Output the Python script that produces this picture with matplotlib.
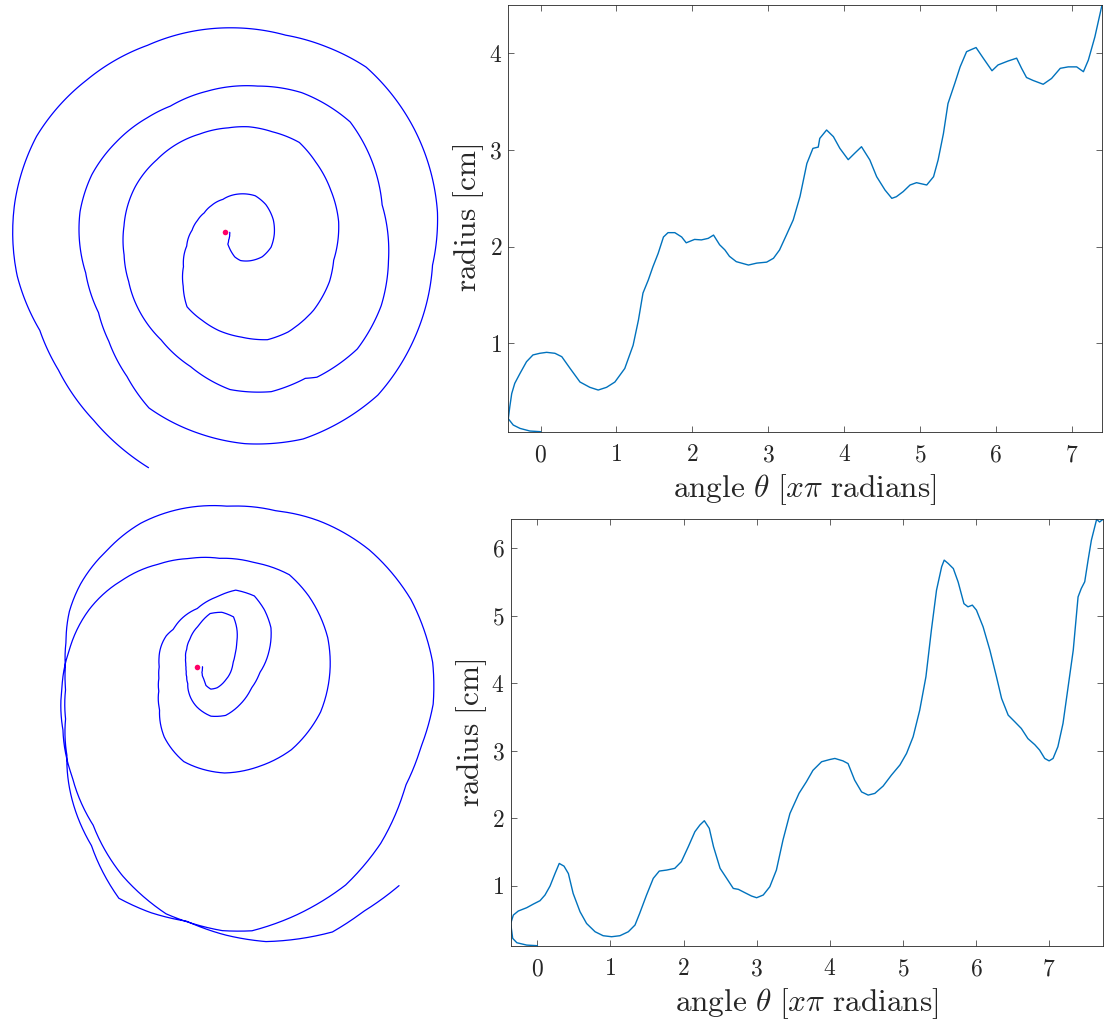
import numpy as np
import matplotlib
matplotlib.use("Agg")
import matplotlib.pyplot as plt
from matplotlib.path import Path
from matplotlib.patches import PathPatch

# ---- traced spirals: unwrapped angle (in units of pi) and radius [cm] ----
theta_top = [0.00, -0.14, -0.27, -0.36, -0.425, -0.405, -0.38, -0.34, -0.27, -0.185,
             -0.10, -0.01, 0.08, 0.19, 0.28, 0.39, 0.52, 0.65, 0.76, 0.87,
             0.98, 1.11, 1.22, 1.29, 1.35, 1.42, 1.48, 1.55, 1.62, 1.68,
             1.77, 1.86, 1.92, 2.03, 2.12, 2.21, 2.28, 2.36, 2.43, 2.49,
             2.58, 2.74, 2.85, 2.98, 3.07, 3.15, 3.24, 3.33, 3.42, 3.51,
             3.59, 3.66, 3.68, 3.77, 3.86, 3.945, 4.055, 4.14, 4.23, 4.34,
             4.43, 4.54, 4.63, 4.69, 4.78, 4.87, 4.955, 5.09, 5.18, 5.24,
             5.31, 5.37, 5.46, 5.53, 5.615, 5.68, 5.74, 5.835, 5.95, 6.03,
             6.16, 6.275, 6.34, 6.405, 6.49, 6.625, 6.735, 6.85, 6.955, 7.066,
             7.155, 7.22, 7.306, 7.40]
r_top = [0.086, 0.093, 0.12, 0.155, 0.22, 0.345, 0.48, 0.586, 0.69, 0.81,
         0.88, 0.897, 0.907, 0.897, 0.862, 0.74, 0.60, 0.545, 0.517, 0.545,
         0.60, 0.74, 0.98, 1.24, 1.52, 1.655, 1.79, 1.93, 2.10, 2.145,
         2.145, 2.10, 2.04, 2.075, 2.07, 2.086, 2.12, 2.02, 1.966, 1.90,
         1.845, 1.81, 1.83, 1.84, 1.88, 1.966, 2.12, 2.276, 2.52, 2.86,
         3.017, 3.03, 3.12, 3.207, 3.138, 3.017, 2.90, 2.966, 3.034, 2.897,
         2.724, 2.586, 2.50, 2.517, 2.57, 2.638, 2.662, 2.638, 2.724, 2.897,
         3.17, 3.48, 3.69, 3.86, 4.017, 4.04, 4.06, 3.95, 3.82, 3.88,
         3.92, 3.95, 3.845, 3.75, 3.72, 3.68, 3.74, 3.845, 3.86, 3.86,
         3.81, 3.93, 4.17, 4.50]

theta_bot = [0.0, -0.145, -0.28, -0.337, -0.364, -0.328, -0.26, -0.145, -0.054, 0.037,
             0.105, 0.174, 0.242, 0.30, 0.365, 0.425, 0.49, 0.584, 0.674, 0.79,
             0.90, 1.016, 1.13, 1.245, 1.336, 1.40, 1.494, 1.586, 1.668, 1.77,
             1.88, 1.97, 2.065, 2.155, 2.224, 2.284, 2.352, 2.41, 2.50, 2.59,
             2.68, 2.75, 2.84, 2.93, 3.0, 3.09, 3.18, 3.27, 3.36, 3.455,
             3.58, 3.68, 3.77, 3.888, 4.0, 4.07, 4.18, 4.25, 4.34, 4.435,
             4.525, 4.616, 4.73, 4.844, 4.96, 5.05, 5.14, 5.23, 5.315, 5.39,
             5.46, 5.53, 5.565, 5.62, 5.69, 5.756, 5.835, 5.89, 5.95, 6.006,
             6.097, 6.19, 6.28, 6.35, 6.44, 6.53, 6.62, 6.71, 6.804, 6.87,
             6.94, 7.0, 7.054, 7.12, 7.19, 7.26, 7.33, 7.396, 7.44, 7.487,
             7.533, 7.578, 7.65, 7.69, 7.737]
r_bot = [0.111, 0.12, 0.155, 0.22, 0.44, 0.565, 0.625, 0.674, 0.728, 0.778,
         0.862, 0.995, 1.18, 1.33, 1.29, 1.18, 0.886, 0.615, 0.44, 0.318,
         0.259, 0.244, 0.259, 0.318, 0.417, 0.59, 0.862, 1.109, 1.217, 1.232,
         1.257, 1.356, 1.578, 1.80, 1.90, 1.963, 1.85, 1.578, 1.257, 1.109,
         0.96, 0.946, 0.896, 0.847, 0.822, 0.862, 0.985, 1.232, 1.677, 2.07,
         2.37, 2.54, 2.71, 2.837, 2.87, 2.886, 2.85, 2.81, 2.565, 2.39,
         2.343, 2.368, 2.477, 2.64, 2.79, 2.96, 3.207, 3.60, 4.096, 4.79,
         5.38, 5.726, 5.825, 5.775, 5.70, 5.50, 5.18, 5.133, 5.158, 5.084,
         4.837, 4.49, 4.096, 3.775, 3.528, 3.43, 3.33, 3.18, 3.09, 3.01,
         2.886, 2.85, 2.886, 3.06, 3.405, 3.948, 4.49, 5.28, 5.405, 5.504,
         5.825, 6.12, 6.43, 6.39, 6.43]

xticks_top = [0, 1, 2, 3, 4, 5, 6, 7]
yticks_top = [1, 2, 3, 4]
xticks_bot = [0, 1, 2, 3, 4, 5, 6, 7]
yticks_bot = [1, 2, 3, 4, 5, 6]

XLABEL = r"$\mathrm{angle}\ \theta\ [x\pi\ \mathrm{radians}]$"
YLABEL = r"$\mathrm{radius}\ [\mathrm{cm}]$"

plt.rcParams["mathtext.fontset"] = "cm"
plt.rcParams["font.family"] = "serif"
plt.rcParams["font.serif"] = ["cmr10", "DejaVu Serif"]
plt.rcParams["axes.formatter.use_mathtext"] = True

W, H = 1104, 1021
fig = plt.figure(figsize=(W / 100, H / 100), dpi=100)
fig.patch.set_facecolor("white")


def px_rect(left, top, right, bottom):
    return [left / W, 1 - bottom / H, (right - left) / W, (bottom - top) / H]


def draw_spiral(theta, r, cx, cy, scale):
    """Pen trace in the plane, centred on the starting point (cx, cy) in pixels."""
    rmax = max(r)
    half = rmax * scale
    ax = fig.add_axes(px_rect(cx - half, cy - half, cx + half, cy + half),
                      projection="polar")
    ax.set_ylim(0, rmax)
    # segments between samples follow the polar geometry (curved in x-y)
    verts = np.column_stack([np.pi * np.asarray(theta), np.asarray(r)])
    trace = Path(verts, _interpolation_steps=40)
    ax.add_patch(PathPatch(trace, fill=False, edgecolor="#0000ff", lw=0.9,
                           transform=ax.transData, clip_on=False,
                           joinstyle="round", capstyle="round"))
    ax.plot([0], [0], "o", color="#ff0066", ms=4, mec="none", zorder=5,
            clip_on=False)
    ax.set_ylim(0, rmax)
    ax.axis("off")
    ax.patch.set_visible(False)
    return ax


def draw_radius(theta, r, rect, xticks, yticks):
    ax = fig.add_axes(rect)
    ax.plot(theta, r, color="#0072bd", lw=1.0)
    ax.set_xlim(min(theta), max(theta))
    ax.set_ylim(min(r), max(r))
    ax.set_xticks(xticks)
    ax.set_yticks(yticks)
    ax.set_xticklabels([f"${t}$" for t in xticks])
    ax.set_yticklabels([f"${t}$" for t in yticks])
    ax.tick_params(direction="in", top=True, right=True, length=4.3,
                   width=0.5, colors="#262626", labelsize=17)
    ax.tick_params(axis="x", pad=9)
    ax.tick_params(axis="y", pad=4.5)
    for sp in ax.spines.values():
        sp.set_linewidth(0.6)
        sp.set_color("#262626")
    ax.set_xlabel(XLABEL, fontsize=22.5, color="#262626", labelpad=4)
    ax.set_ylabel(YLABEL, fontsize=22.5, color="#262626", labelpad=2)
    return ax


draw_spiral(theta_top, r_top, 225.0, 232.3, 55.0)
draw_spiral(theta_bot, r_bot, 197.3, 666.7, 46.3)

draw_radius(theta_top, r_top, px_rect(508.3, 5.0, 1102.0, 431.7),
            xticks_top, yticks_top)
draw_radius(theta_bot, r_bot, px_rect(510.7, 519.3, 1103.0, 945.7),
            xticks_bot, yticks_bot)

fig.savefig("out.png", dpi=100, facecolor="white")
